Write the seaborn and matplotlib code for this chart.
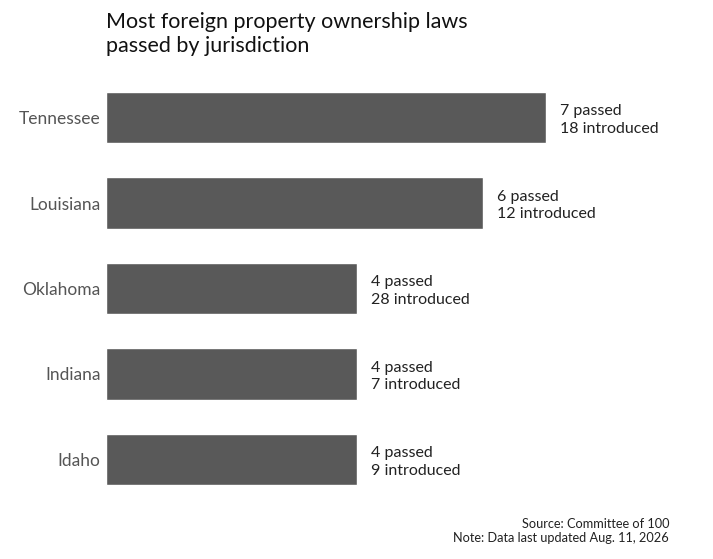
import matplotlib.pyplot as plt
import seaborn as sns
import pandas as pd

# Chart data
states = ["Tennessee", "Louisiana", "Oklahoma", "Indiana", "Idaho"]
passed = [7, 6, 4, 4, 4]
introduced = [18, 12, 28, 7, 9]

df = pd.DataFrame({"state": states, "passed": passed, "introduced": introduced})

sns.set_style("white")
plt.rcParams["font.family"] = ["Lato", "DejaVu Sans"]

fig = plt.figure(figsize=(7.13, 5.59), dpi=100)
ax = fig.add_axes([106 / 713, 1 - 502.25 / 559, 594 / 713, 427.5 / 559])

sns.barplot(data=df, x="passed", y="state", orient="h", color="#595959",
            saturation=1, width=0.6, ax=ax)

ax.set_xlim(0, 9.45)
ax.set_ylim(4.5, -0.5)
sns.despine(ax=ax, left=True, bottom=True)
ax.set_xticks([])
ax.set_xlabel("")
ax.set_ylabel("")
ax.tick_params(axis="y", length=0, pad=4, labelsize=12.5, labelcolor="#555555")

# Value labels next to each bar
for i, row in df.iterrows():
    ax.text(row["passed"] + 0.22, i + 0.03, f"{row['passed']} passed\n{row['introduced']} introduced",
            va="center", ha="left", fontsize=11.5, color="#222222", linespacing=1.3)

fig.text(106 / 713, 1 - 12 / 559, "Most foreign property ownership laws\npassed by jurisdiction",
         ha="left", va="top", fontsize=15.5, color="#111111", linespacing=1.27)

fig.text(669 / 713, 1 - 518 / 559, "Source: Committee of 100\nNote: Data last updated Aug. 11, 2026",
         ha="right", va="top", fontsize=9.2, color="#222222", linespacing=1.25)

fig.savefig("out.png", dpi=100)
